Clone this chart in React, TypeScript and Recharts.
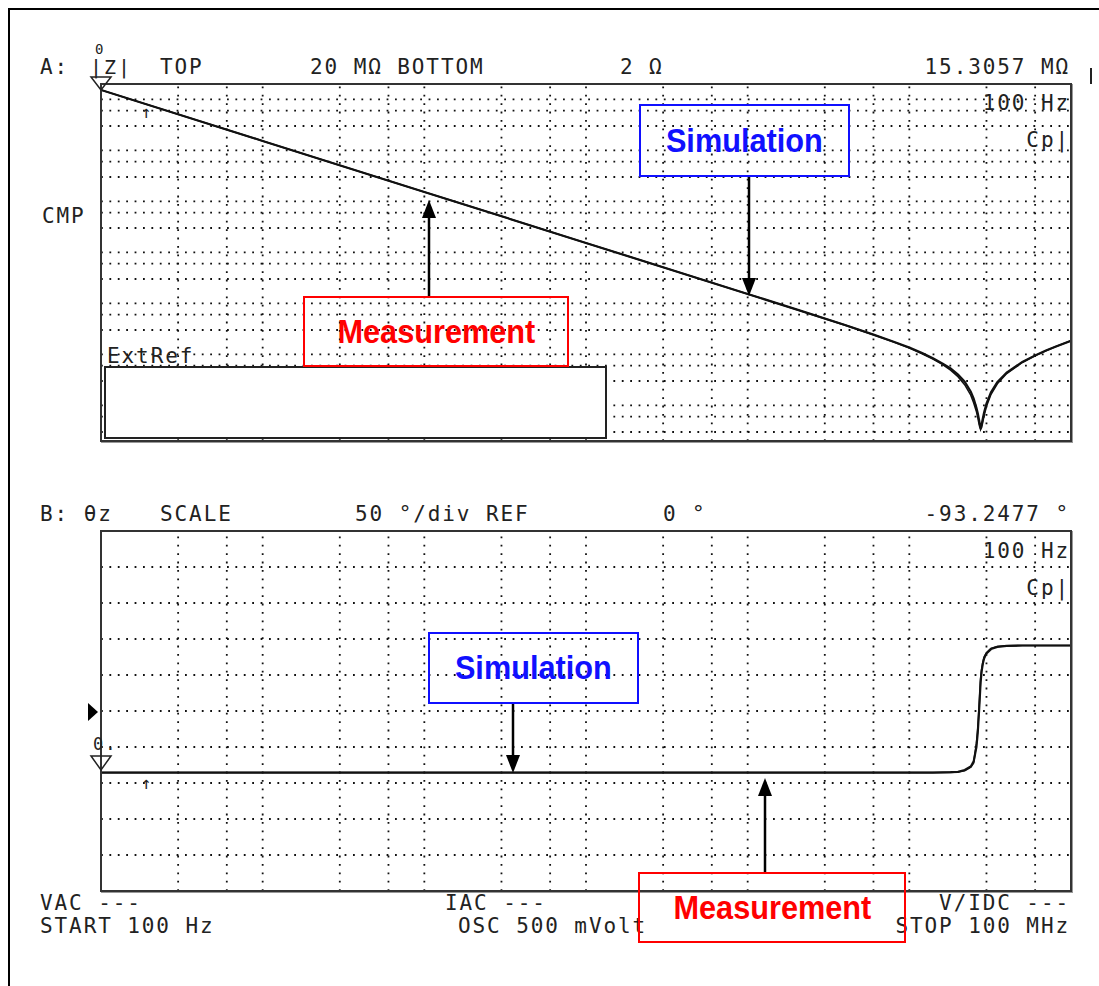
import { LineChart, Line, XAxis, YAxis, ReferenceLine } from 'recharts';

// sweep points (Hz) shared by both traces
const freqHz = [
    100, 1e3, 1e4, 1e5, 1e6, 2e6, 4e6, 6e6, 8e6, 1e7, 1.2e7, 1.4e7, 1.6e7, 1.8e7, 2e7,
    2.2e7, 2.4e7, 2.5e7, 2.6e7, 2.65e7, 2.7e7, 2.73e7, 2.76e7, 2.8e7, 2.85e7, 2.9e7,
    3e7, 3.2e7, 3.5e7, 4e7, 5e7, 6e7, 7e7, 8e7, 1e8,
];

// |Z| in ohms
const zMeasured = [
    1.53e7, 1.53e6, 1.53e5, 15300, 1528, 761, 375, 244, 177, 136, 106, 84, 66, 53, 40,
    29, 18.5, 13.5, 9, 7, 5.2, 4.2, 3.6, 4.2, 5.6, 7.2,
    10.8, 18, 28.5, 44, 71, 95, 119, 141, 185,
];
const zSimulated = [
    1.53e7, 1.53e6, 1.53e5, 15300, 1528, 761, 374, 243, 175, 133, 103, 81, 64, 49, 36.5,
    25.5, 15.8, 11.2, 7.6, 5.8, 4.3, 3.7, 3.4, 3.7, 4.8, 6.3,
    9.6, 16.5, 26.5, 42, 69.4, 94.5, 118, 141, 185,
];

// phase in degrees
const phaseMeasured = [
    -85.5, -85.5, -85.5, -85.5, -85.5, -85.5, -85.5, -85.5, -85.5, -85.5, -85.5, -85.5, -85.3, -85, -84.5,
    -82, -77, -70, -50, -30, 0, 20, 40, 55, 66, 73,
    80, 86, 89, 90.5, 91, 91, 91, 91, 91,
];
const phaseSimulated = [
    -85.5, -85.5, -85.5, -85.5, -85.5, -85.5, -85.5, -85.5, -85.5, -85.5, -85.5, -85.5, -85.4, -85.2, -84.8,
    -83, -78, -72, -45, -25, 5, 25, 45, 58, 68, 75,
    81, 87, 89.5, 90.5, 91, 91, 91, 91, 91,
];

const freqGrid = [300, 600, 1e3, 3e3, 6e3, 1e4, 3e4, 6e4, 1e5, 3e5, 6e5, 1e6, 3e6, 6e6, 1e7, 3e7, 6e7];
const zGrid = [3, 6, 10, 30, 60, 100, 300, 600, 1e3, 3e3, 6e3, 1e4, 3e4, 6e4, 1e5, 3e5, 6e5, 1e6, 3e6, 6e6, 1e7];
const phaseGrid = [-200, -150, -100, -50, 0, 50, 100, 150, 200];

const W = 1099;
const H = 986;
const PLOT_X = 101;
const PLOT_W = 970;

const MONO = '"DejaVu Sans Mono", "Liberation Mono", monospace';
const dotStyle = { stroke: '#111', strokeWidth: 1.8, strokeDasharray: '1.8 6.6' };

const Txt = ({ x, y, right, size = 21, children }: any) => (
    <div
        style={{
            position: 'absolute',
            top: y - Math.round((size + 1) / 2),
            left: right ? undefined : x,
            right: right ? W - x - 2 : undefined,
            height: size + 1,
            lineHeight: `${size + 1}px`,
            whiteSpace: 'pre',
            fontFamily: MONO,
            fontSize: size,
            letterSpacing: 1.9,
            color: '#222',
        }}
    >
        {children}
    </div>
);

const NoteBox = ({ x, y, w, h, color, text }: any) => (
    <div
        style={{
            position: 'absolute',
            left: x,
            top: y,
            width: w,
            height: h,
            boxSizing: 'border-box',
            border: `2px solid ${color}`,
            display: 'flex',
            alignItems: 'center',
            justifyContent: 'center',
        }}
    >
        <span
            style={{
                display: 'inline-block',
                fontFamily: '"Liberation Sans", Arial, sans-serif',
                fontWeight: 700,
                fontSize: 33,
                color,
                transform: 'scaleX(0.93)',
            }}
        >
            {text}
        </span>
    </div>
);

const Arrow = ({ x, from, tip }: any) => {
    const dir = tip > from ? 1 : -1;
    return (
        <g>
            <line x1={x} y1={from} x2={x} y2={tip - dir * 12} stroke="#000" strokeWidth={2.5} />
            <polygon points={`${x},${tip} ${x - 7},${tip - dir * 18} ${x + 7},${tip - dir * 18}`} fill="#000" />
        </g>
    );
};

const PanelFrame = ({ top, height }: any) => (
    <div
        style={{
            position: 'absolute',
            left: PLOT_X - 1,
            top: top - 1,
            width: PLOT_W + 2,
            height: height + 2,
            boxSizing: 'border-box',
            border: '2px solid #333',
            boxShadow: '1px 1px 0 #999',
        }}
    />
);

export default function App() {
    const zData = freqHz.map((f, i) => ({ f, meas: zMeasured[i], sim: zSimulated[i] }));
    const phData = freqHz.map((f, i) => ({ f, meas: phaseMeasured[i], sim: phaseSimulated[i] }));

    return (
        <div style={{ position: 'absolute', left: 0, top: 0, width: W, height: H, background: '#fff', overflow: 'hidden' }}>
            {/* outer frame */}
            <div style={{ position: 'absolute', left: 8, top: 8, width: W, height: H, borderLeft: '2px solid #000', borderTop: '2px solid #000' }} />

            {/* panel A: |Z| */}
            <div style={{ position: 'absolute', left: PLOT_X, top: 84 }}>
                <LineChart width={PLOT_W} height={357} data={zData} margin={{ top: 0, right: 0, bottom: 0, left: 0 }}>
                    <XAxis dataKey="f" type="number" scale="log" domain={[100, 1e8]} allowDataOverflow hide />
                    <YAxis type="number" scale="log" domain={[2, 2e7]} allowDataOverflow hide />
                    {freqGrid.map((v) => (
                        <ReferenceLine key={'x' + v} x={v} {...dotStyle} />
                    ))}
                    {zGrid.map((v) => (
                        <ReferenceLine key={'y' + v} y={v} {...dotStyle} />
                    ))}
                    <Line dataKey="sim" type="linear" stroke="#111" strokeWidth={1.6} dot={false} isAnimationActive={false} />
                    <Line dataKey="meas" type="linear" stroke="#111" strokeWidth={2.2} dot={false} isAnimationActive={false} />
                </LineChart>
            </div>
            <PanelFrame top={84} height={357} />

            {/* panel B: theta */}
            <div style={{ position: 'absolute', left: PLOT_X, top: 531 }}>
                <LineChart width={PLOT_W} height={360} data={phData} margin={{ top: 0, right: 0, bottom: 0, left: 0 }}>
                    <XAxis dataKey="f" type="number" scale="log" domain={[100, 1e8]} allowDataOverflow hide />
                    <YAxis type="number" domain={[-250, 250]} allowDataOverflow hide />
                    {freqGrid.map((v) => (
                        <ReferenceLine key={'x' + v} x={v} {...dotStyle} />
                    ))}
                    {phaseGrid.map((v) => (
                        <ReferenceLine key={'y' + v} y={v} {...dotStyle} />
                    ))}
                    <Line dataKey="sim" type="linear" stroke="#111" strokeWidth={1.6} dot={false} isAnimationActive={false} />
                    <Line dataKey="meas" type="linear" stroke="#111" strokeWidth={2.2} dot={false} isAnimationActive={false} />
                </LineChart>
            </div>
            <PanelFrame top={531} height={360} />

            {/* blank box over panel A */}
            <div style={{ position: 'absolute', left: 104, top: 366, width: 503, height: 73, boxSizing: 'border-box', background: '#fff', border: '2.5px solid #222' }} />

            {/* header A */}
            <Txt x={40} y={67}>A:</Txt>
            <Txt x={90} y={68} size={20}>|Z|</Txt>
            <Txt x={160} y={67}>TOP</Txt>
            <Txt x={310} y={67}>20 MΩ BOTTOM</Txt>
            <Txt x={620} y={67}>2 Ω</Txt>
            <Txt x={1068} y={67} right>15.3057 MΩ</Txt>
            <Txt x={1068} y={103} right>100 Hz</Txt>
            <Txt x={1068} y={140} right>Cp|</Txt>
            <Txt x={42} y={216}>CMP</Txt>
            <Txt x={107} y={356}>ExtRef</Txt>
            <Txt x={141} y={112} size={17}>↑</Txt>
            <Txt x={95} y={50} size={14}>0</Txt>

            {/* header B */}
            <Txt x={40} y={514}>B: θz</Txt>
            <Txt x={160} y={514}>SCALE</Txt>
            <Txt x={355} y={514}>50 °/div REF</Txt>
            <Txt x={663} y={514}>0 °</Txt>
            <Txt x={1068} y={514} right>-93.2477 °</Txt>
            <Txt x={1068} y={551} right>100 Hz</Txt>
            <Txt x={1068} y={588} right>Cp|</Txt>
            <Txt x={93} y={744} size={17}>0.</Txt>
            <Txt x={141} y={783} size={17}>↑</Txt>

            {/* footer */}
            <Txt x={40} y={903}>VAC ---</Txt>
            <Txt x={40} y={926}>START 100 Hz</Txt>
            <Txt x={445} y={903}>IAC ---</Txt>
            <Txt x={458} y={926}>OSC 500 mVolt</Txt>
            <Txt x={1068} y={903} right>V/IDC ---</Txt>
            <Txt x={1068} y={926} right>STOP 100 MHz</Txt>

            {/* annotations */}
            <NoteBox x={639} y={104} w={211} h={73} color="#1010ff" text="Simulation" />
            <NoteBox x={303} y={296} w={266} h={71} color="#ff0000" text="Measurement" />
            <NoteBox x={428} y={632} w={211} h={72} color="#1010ff" text="Simulation" />
            <NoteBox x={638} y={872} w={268} h={71} color="#ff0000" text="Measurement" />

            <svg width={W} height={H} style={{ position: 'absolute', left: 0, top: 0, pointerEvents: 'none' }}>
                <Arrow x={749} from={177} tip={296} />
                <Arrow x={429} from={296} tip={200} />
                <Arrow x={513} from={704} tip={773} />
                <Arrow x={765} from={872} tip={778} />
                {/* start markers */}
                <polygon points="91,77 111,77 101,90" fill="none" stroke="#222" strokeWidth={1.5} />
                <polygon points="91,756 111,756 101,770" fill="none" stroke="#222" strokeWidth={1.5} />
                <polygon points="88,703 98,712 88,721" fill="#000" />
                <line x1={1091} y1={68} x2={1091} y2={84} stroke="#222" strokeWidth={2} />
            </svg>
        </div>
    );
}
